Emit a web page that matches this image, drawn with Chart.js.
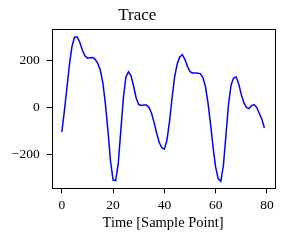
<!DOCTYPE html>
<html>
<head>
<meta charset="utf-8">
<script src="https://cdn.jsdelivr.net/npm/chart.js@4/dist/chart.umd.min.js"></script>
<style>
  html, body { margin: 0; padding: 0; background: #fff; }
  #wrap { width: 290px; height: 240px; }
</style>
</head>
<body>
<div id="wrap"><canvas id="trace-chart" width="290" height="240"></canvas></div>
<script>
// --- data ---
const samplePoint = [
  0, 1, 2, 3, 4, 5, 6, 7, 8, 9,
  10, 11, 12, 13, 14, 15, 16, 17, 18, 19,
  20, 21, 22, 23, 24, 25, 26, 27, 28, 29,
  30, 31, 32, 33, 34, 35, 36, 37, 38, 39,
  40, 41, 42, 43, 44, 45, 46, 47, 48, 49,
  50, 51, 52, 53, 54, 55, 56, 57, 58, 59,
  60, 61, 62, 63, 64, 65, 66, 67, 68, 69,
  70, 71, 72, 73, 74, 75, 76, 77, 78, 79
];
const trace = [
  -105, -15, 85, 185, 262, 300, 300, 278, 245, 220,
  210, 212, 213, 205, 188, 160, 105, 15, -100, -230,
  -310, -312, -240, -100, 40, 130, 152, 135, 90, 40,
  12, 8, 10, 10, 0, -25, -65, -110, -150, -172,
  -178, -140, -60, 40, 130, 185, 215, 225, 205, 175,
  152, 147, 147, 146, 144, 128, 90, 20, -70, -170,
  -255, -305, -315, -250, -120, 10, 95, 125, 130, 100,
  55, 20, 0, -5, 8, 12, 0, -25, -50, -88
];
const xTicks = [0, 20, 40, 60, 80];
const yTicks = [-200, 0, 200];

const FONT = "'Liberation Serif', 'DejaVu Serif', serif";

// box round the plot area, like matplotlib spines
const frame = {
  id: 'frame',
  afterDatasetsDraw(chart) {
    const { ctx, chartArea: a } = chart;
    ctx.save();
    ctx.strokeStyle = '#000';
    ctx.lineWidth = 1;
    ctx.strokeRect(Math.round(a.left) + 0.5, Math.round(a.top) + 0.5,
      Math.round(a.right - a.left), Math.round(a.bottom - a.top));
    ctx.restore();
  }
};

new Chart(document.getElementById('trace-chart'), {
  type: 'line',
  data: {
    datasets: [{
      label: 'Trace',
      data: samplePoint.map((x, i) => ({ x, y: trace[i] })),
      borderColor: '#0000ff',
      borderWidth: 1.5,
      pointRadius: 0,
      tension: 0,
      fill: false
    }]
  },
  options: {
    responsive: false,
    animation: false,
    events: [],
    layout: { padding: { top: 0, right: 15.5, bottom: 0, left: 0 } },
    plugins: {
      legend: { display: false },
      tooltip: { enabled: false },
      title: {
        display: true,
        text: 'Trace',
        color: '#000',
        font: { family: FONT, size: 17, weight: 'normal' },
        padding: { top: 5.8, bottom: 3.1 }
      }
    },
    scales: {
      x: {
        type: 'linear',
        min: -3.95,
        max: 82.95,
        afterBuildTicks: s => { s.ticks = xTicks.map(v => ({ value: v })); },
        afterFit: s => { s.height = 51.7; s.paddingLeft = 0; s.paddingRight = 0; },
        grid: { display: true, drawOnChartArea: false, drawTicks: true, tickLength: 5, color: '#000' },
        border: { display: false },
        ticks: { color: '#000', padding: 4, maxRotation: 0, font: { family: FONT, size: 13.5 } },
        title: {
          display: true,
          text: 'Time [Sample Point]',
          color: '#000',
          font: { family: FONT, size: 14.5 },
          padding: { top: 0, bottom: 8.5 }
        }
      },
      y: {
        min: -345,
        max: 333,
        afterBuildTicks: s => { s.ticks = yTicks.map(v => ({ value: v })); },
        afterFit: s => { s.width = 51.7; s.paddingTop = 0; s.paddingBottom = 0; },
        grid: { display: true, drawOnChartArea: false, drawTicks: true, tickLength: 5, color: '#000' },
        border: { display: false },
        ticks: {
          color: '#000',
          padding: 7,
          font: { family: FONT, size: 13.5 },
          callback: v => (v < 0 ? '\u2212' + Math.abs(v) : String(v))
        }
      }
    }
  },
  plugins: [frame]
});
</script>
</body>
</html>
